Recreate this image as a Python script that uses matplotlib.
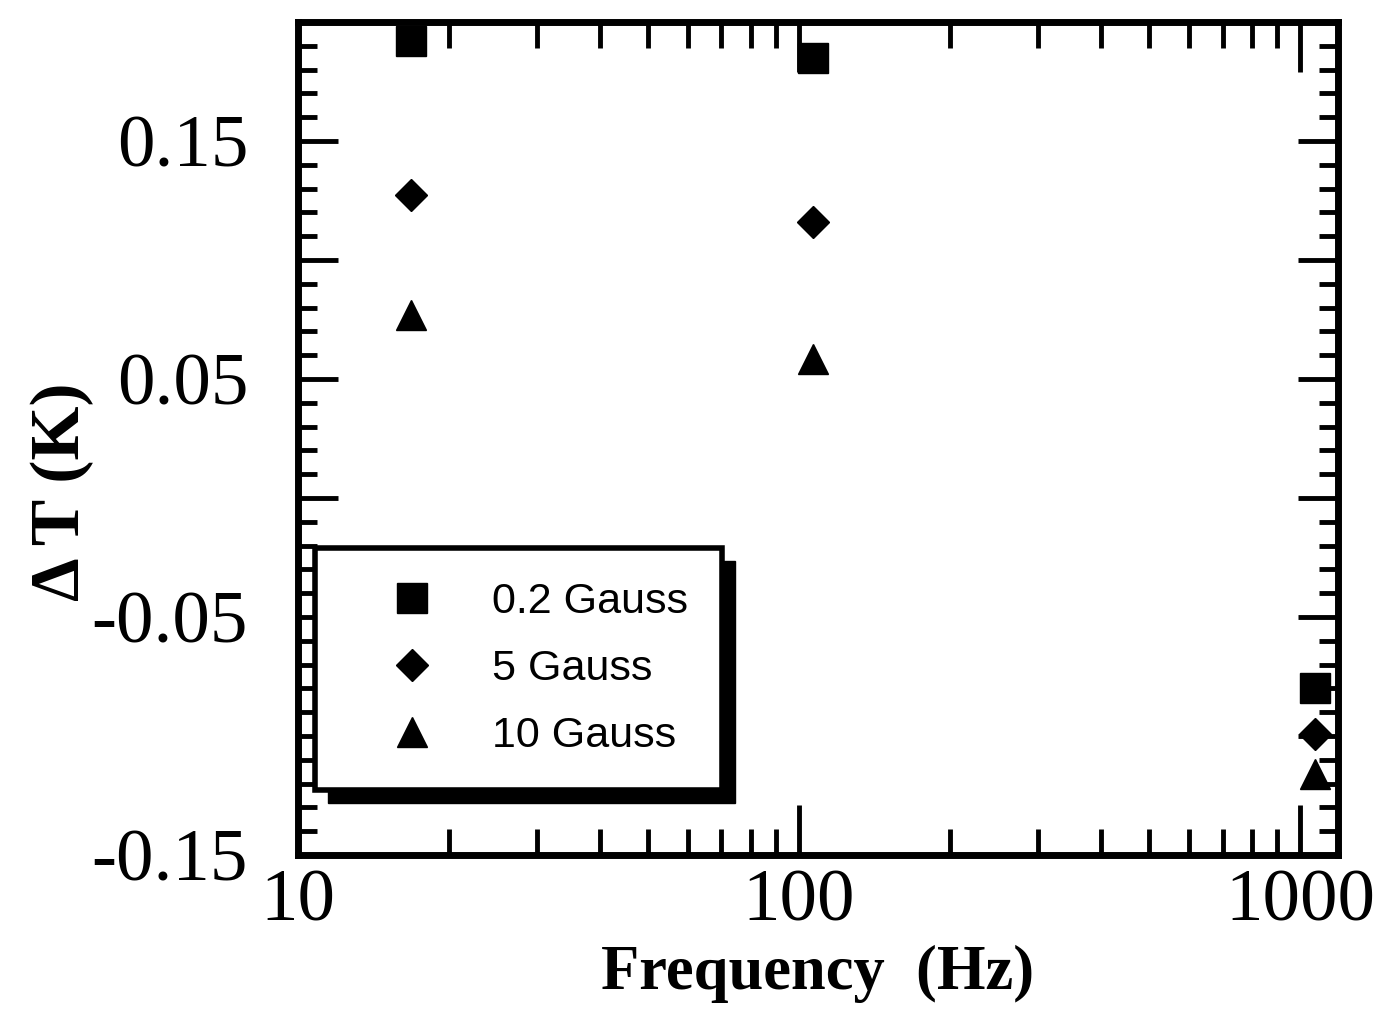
import matplotlib
matplotlib.use('Agg')
import matplotlib.pyplot as plt
from matplotlib.ticker import FixedLocator, FixedFormatter, MultipleLocator, LogLocator, NullFormatter
from matplotlib.patches import Rectangle
from matplotlib.transforms import IdentityTransform
import numpy as np

# ---- data ----
freq_hz = [16.8, 106.7, 1071]
dT_02 = [0.192, 0.185, -0.080]
dT_5 = [0.1275, 0.116, -0.099]
dT_10 = [0.0767, 0.0585, -0.116]
series_labels = ['0.2 Gauss', '5 Gauss', '10 Gauss']
xtick_values = [10, 100, 1000]
xtick_labels = ['10', '100', '1000']
ytick_major = [-0.15, -0.10, -0.05, 0.0, 0.05, 0.10, 0.15, 0.20]
ytick_labels = ['-0.15', '', '-0.05', '', '0.05', '', '0.15', '']

W, H = 1383, 1016
fig = plt.figure(figsize=(W / 100, H / 100), dpi=100)
ax = fig.add_axes([298 / W, 1 - 855 / H, 1040 / W, 833 / H])

serif = 'Liberation Serif'
sans = 'Liberation Sans'

ax.plot(freq_hz, dT_02, ls='none', marker='s', ms=21, color='k', mec='k',
        label=series_labels[0], clip_on=False, zorder=3)
ax.plot(freq_hz, dT_5, ls='none', marker='D', ms=16, color='k', mec='k',
        label=series_labels[1], clip_on=False, zorder=3)
ax.plot(freq_hz, dT_10, ls='none', marker='^', ms=22, color='k', mec='k',
        label=series_labels[2], clip_on=False, zorder=3)

ax.set_xscale('log')
ax.set_xlim(10, 1190)
ax.set_ylim(-0.15, 0.20)

ax.xaxis.set_major_locator(FixedLocator(xtick_values))
ax.xaxis.set_major_formatter(FixedFormatter(xtick_labels))
ax.xaxis.set_minor_locator(LogLocator(base=10, subs=np.arange(2, 10)))
ax.xaxis.set_minor_formatter(NullFormatter())

ax.yaxis.set_major_locator(FixedLocator(ytick_major))
ax.yaxis.set_major_formatter(FixedFormatter(ytick_labels))
ax.yaxis.set_minor_locator(MultipleLocator(0.01))

ax.tick_params(which='both', direction='in', top=True, right=True, width=3.5, color='k')
ax.tick_params(axis='x', which='major', length=36, pad=10)
ax.tick_params(axis='x', which='minor', length=19)
ax.tick_params(axis='y', which='major', length=29, pad=36)
ax.tick_params(axis='y', which='minor', length=14)

for lab in ax.get_xticklabels() + ax.get_yticklabels():
    lab.set_fontfamily(serif)
    lab.set_fontsize(54)

for sp in ax.spines.values():
    sp.set_linewidth(5)
    sp.set_color('k')

ax.set_xlabel('Frequency  (Hz)', fontfamily=serif, fontweight='bold', fontsize=45)
ax.xaxis.set_label_coords(0.5, -0.108)
ax.set_ylabel('Δ T (K)', fontfamily=serif, fontweight='bold', fontsize=50)
ax.yaxis.set_label_coords(-0.196, 0.436)

leg = ax.legend(loc='upper left', bbox_to_anchor=(17 / 1040, (855 - 548) / 833),
                borderaxespad=0, prop={'family': sans, 'size': 31},
                handlelength=2.9, handletextpad=0.4, borderpad=0.8,
                labelspacing=0.62, frameon=True, fancybox=False,
                edgecolor='k', framealpha=1, facecolor='white')
leg.get_frame().set_linewidth(4)
leg.set_zorder(5)

fig.canvas.draw()
bb = leg.get_window_extent()
shadow = Rectangle((bb.x0 + 13, bb.y0 - 13), bb.width, bb.height,
                   transform=IdentityTransform(), facecolor='k', edgecolor='k',
                   zorder=4.9, clip_on=False)
ax.add_artist(shadow)

fig.savefig('out.png', dpi=100)
